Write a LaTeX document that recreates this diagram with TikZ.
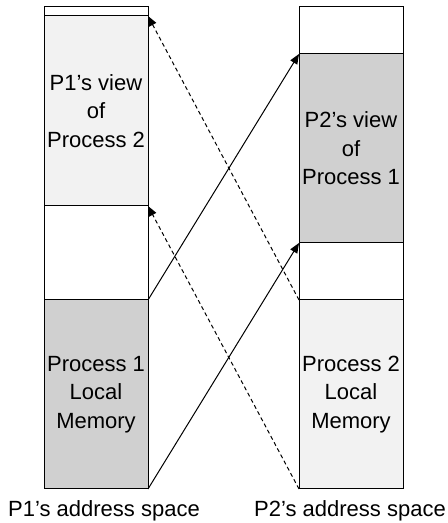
\documentclass[tikz,border=0pt]{standalone}
\usepackage{fontspec}
\setmainfont{Liberation Sans}
\usepackage{tikz}
\usetikzlibrary{positioning}
\usetikzlibrary{arrows.meta}
\definecolor{viewgray}{RGB}{242,242,242}
\definecolor{localgray}{RGB}{208,208,208}
\tikzset{%
  every segment/.style={
    rectangle,
    draw,
    line width=0.5pt,
    minimum width=52pt,
    inner sep=0pt,
    outer sep=0pt,
    align=center,
    font=\fontsize{11}{14.25}\selectfont
  },
  segment view/.style={
    fill=viewgray
  },
  segment local/.style={
    fill=localgray
  },
  space label/.style={
    anchor=base,
    font=\fontsize{11}{13}\selectfont
  },
}

\begin{document}
\begin{tikzpicture}[>={Triangle[length=5pt,width=4pt]}, node distance=0pt, line width=0.5pt]

\useasboundingbox (0,0) rectangle (223.5pt,261.5pt);

% first address space
\node [every segment/.try, anchor=north, minimum height=4.5pt] (p1-free-a) at (48pt,258pt) {};
\node [every segment/.try, segment view/.try, minimum height=95pt, below=of p1-free-a] (p1-view) {P1’s view\\of\\Process 2};
\node [every segment/.try, minimum height=47pt, below=of p1-view] (p1-free-b) {};
\node [every segment/.try, segment local/.try, minimum height=94.5pt, below=of p1-free-b] (p1-local) {Process 1\\Local\\Memory};

% second address space
\node [every segment/.try, anchor=north, minimum height=23.5pt] (p2-free-a) at (175.5pt,258pt) {};
\node [every segment/.try, segment local/.try, minimum height=94.5pt, below=of p2-free-a] (p2-view) {P2’s view\\of\\Process 1};
\node [every segment/.try, minimum height=28.5pt, below=of p2-view] (p2-free-b) {};
\node [every segment/.try, segment view/.try, minimum height=94.5pt, below=of p2-free-b] (p2-local) {Process 2\\Local\\Memory};

\node [space label] (p1-label) at (52pt,3pt) {P1’s address space};
\node [space label] (p2-label) at (175pt,3pt) {P2’s address space};

% mappings
\draw [->] (p1-local.north east) -- (p2-view.north west);
\draw [->] (p1-local.south east) -- (p2-view.south west);
\draw [->, dash pattern=on 2pt off 1.5pt] (p2-local.north west) -- (p1-view.north east);
\draw [->, dash pattern=on 2pt off 1.5pt] (p2-local.south west) -- (p1-free-b.north east);

\end{tikzpicture}
\end{document}
